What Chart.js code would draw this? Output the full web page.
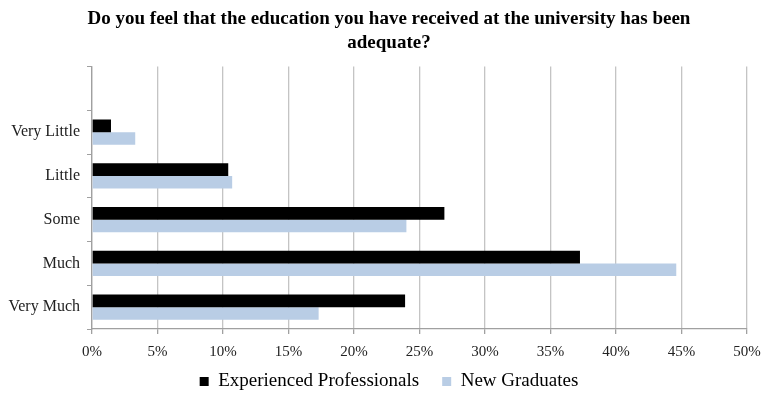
<!DOCTYPE html>
<html>
<head>
<meta charset="utf-8">
<script src="https://cdn.jsdelivr.net/npm/chart.js@4"></script>
<style>
  html, body { margin: 0; padding: 0; background: #fff; }
  #wrap { width: 765px; height: 393px; }
</style>
</head>
<body>
<div id="wrap"><canvas id="chart" width="765" height="393"></canvas></div>
<script>
// categories top to bottom (first row is empty in the original)
const categories = ["", "Very Little", "Little", "Some", "Much", "Very Much"];
const experienced = [null, 1.45, 10.4, 26.9, 37.25, 23.9];
const graduates = [null, 3.3, 10.7, 24.0, 44.6, 17.3];
const seriesNames = ["Experienced Professionals", "New Graduates"];
const titleLines = ["Do you feel that the education you have received at the university has been", "adequate?"];

const serif = "'Liberation Serif', 'Times New Roman', serif";

var ctx = document.getElementById('chart').getContext('2d');
var chart = new Chart(ctx, {
    type: 'bar',
    data: {
        labels: categories,
        datasets: [{
            label: seriesNames[0],
            data: experienced,
            backgroundColor: "#000000",
            borderWidth: 0,
            barPercentage: 1,
            categoryPercentage: 0.58
        }, {
            label: seriesNames[1],
            data: graduates,
            backgroundColor: "#b9cde5",
            borderWidth: 0,
            barPercentage: 1,
            categoryPercentage: 0.58
        }]
    },
    options: {
        indexAxis: 'y',
        responsive: false,
        animation: false,
        // negative right padding shifts title/legend centre to match the original
        layout: { padding: { left: 0, right: -13, top: 0, bottom: -8 } },
        plugins: {
            tooltip: { enabled: false },
            title: {
                display: true,
                text: titleLines,
                color: "#000",
                font: { family: serif, size: 19, weight: 'bold', lineHeight: 1.25 },
                padding: { top: 7, bottom: 12 }
            },
            legend: {
                position: 'bottom',
                labels: {
                    color: "#000",
                    boxWidth: 9,
                    boxHeight: 9,
                    padding: 4,
                    font: { family: serif, size: 19 },
                    // extra gap between the two entries, like the original
                    generateLabels: function (chart) {
                        var items = Chart.defaults.plugins.legend.labels.generateLabels(chart);
                        items[0].text += '\u00a0\u00a0\u00a0\u00a0';
                        return items;
                    }
                }
            }
        },
        scales: {
            x: {
                min: 0,
                max: 50,
                ticks: {
                    stepSize: 5,
                    color: "#222",
                    padding: 9,
                    font: { family: serif, size: 15 },
                    callback: function (v) { return v + '%'; }
                },
                grid: { color: "#c4c4c4", lineWidth: 1.3, tickLength: 5, tickColor: "#a0a0a0" },
                border: { color: "#a0a0a0", width: 1.3 },
                afterFit: function (scale) {
                    scale.height = 39;
                    scale.paddingRight = 18;
                }
            },
            y: {
                ticks: {
                    color: "#222",
                    padding: 7,
                    font: { family: serif, size: 16 }
                },
                grid: { drawOnChartArea: false, drawTicks: true, tickLength: 5, color: "#a0a0a0", offset: true },
                border: { color: "#a0a0a0", width: 1.3 },
                afterFit: function (scale) { scale.width = 92; }
            }
        }
    }
});
</script>
</body>
</html>
